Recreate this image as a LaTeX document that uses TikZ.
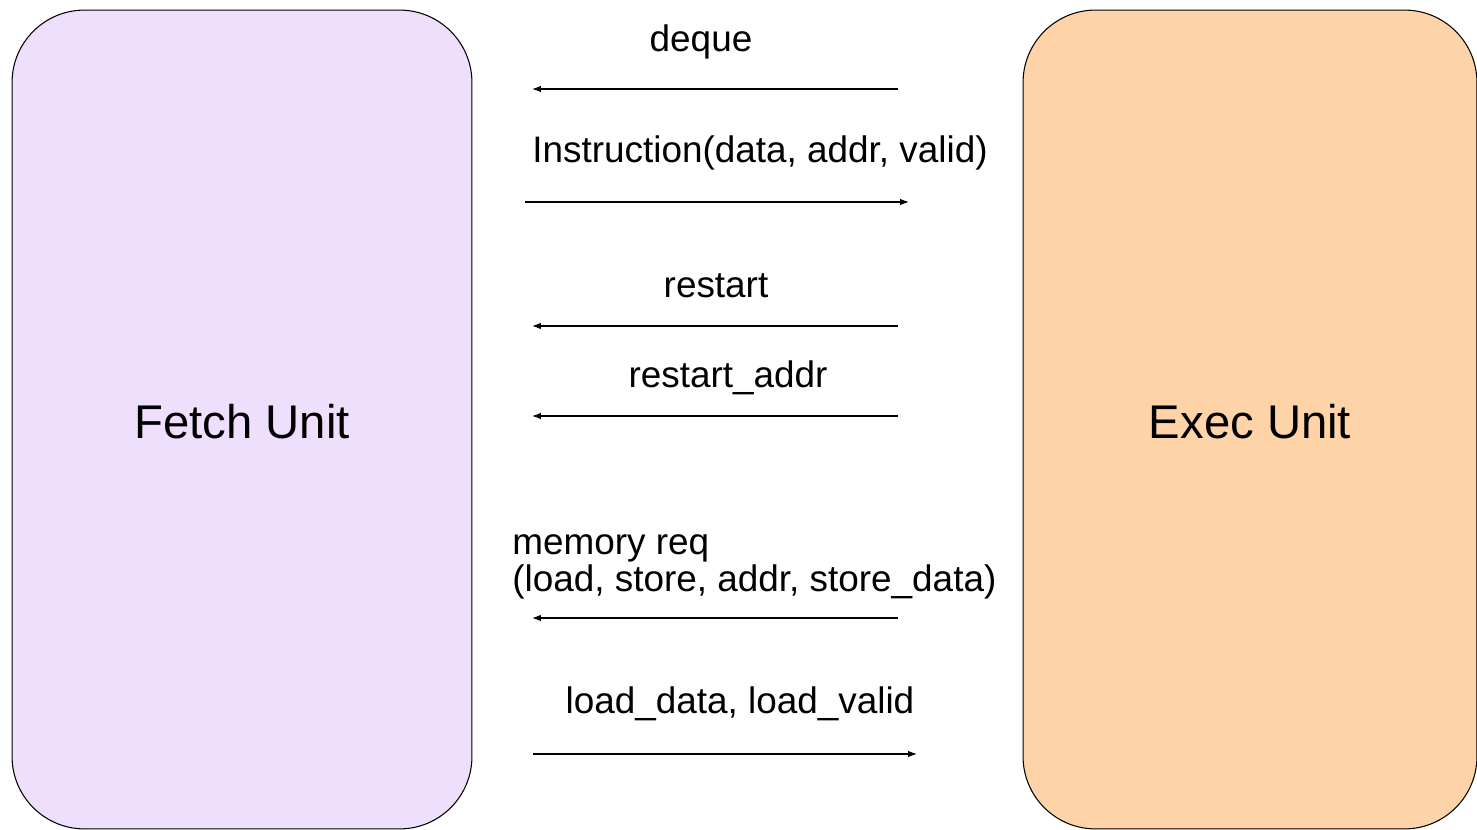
\documentclass[tikz,border=0pt]{standalone}
\usepackage{fontspec}
\setmainfont{Liberation Sans}
\usetikzlibrary{arrows.meta}
\definecolor{fetchbg}{RGB}{238,223,252}
\definecolor{execbg}{RGB}{254,211,168}

\begin{document}
\begin{tikzpicture}[x=0.02cm,y=-0.02cm]
\useasboundingbox (0,0) rectangle (1477,830);
\begin{scope}[every node/.style={rectangle,rounded corners=1.45cm,draw=black,line width=0.6pt,
              minimum height=16.38cm,text height=22pt,text depth=0pt,
              font=\fontsize{26.9}{32}\selectfont}]
    \node[fill=fetchbg,minimum width=9.2cm] (F) at (242,419.5) {Fetch Unit};
    \node[fill=execbg,minimum width=9.08cm] (E) at (1250,419.5) {Exec Unit};
\end{scope}

\begin{scope}[>={Latex[length=5pt,width=3.6pt]},
              every node/.style={font=\fontsize{21}{25}\selectfont,anchor=base,inner sep=0pt},
              every edge/.style={draw=black,line width=0.6pt}]
    \coordinate (dqE) at (898,89);
    \coordinate (dqF) at (532,89);
    \coordinate (inF) at (525,202);
    \coordinate (inE) at (909,202);
    \coordinate (rsE) at (898,326);
    \coordinate (rsF) at (532,326);
    \coordinate (raE) at (898,416);
    \coordinate (raF) at (532,416);
    \coordinate (mrE) at (898,618);
    \coordinate (mrF) at (532,618);
    \coordinate (ldF) at (533,754);
    \coordinate (ldE) at (917,754);

    \node (dq) at (701,52) {deque};
    \node (in) at (760,163) {Instruction(data, addr, valid)};
    \node (rs) at (716,298) {restart};
    \node (ra) at (728,388) {restart\_addr};
    \node[anchor=base west] (mr1) at (512,555) {memory req};
    \node[anchor=base west] (mr2) at (512,592) {(load, store, addr, store\_data)};
    \node (ld) at (740,713) {load\_data, load\_valid};

    \path [->] (dqE) edge (dqF);
    \path [->] (inF) edge (inE);
    \path [->] (rsE) edge (rsF);
    \path [->] (raE) edge (raF);
    \path [->] (mrE) edge (mrF);
    \path [->] (ldF) edge (ldE);
\end{scope}
\end{tikzpicture}
\end{document}
